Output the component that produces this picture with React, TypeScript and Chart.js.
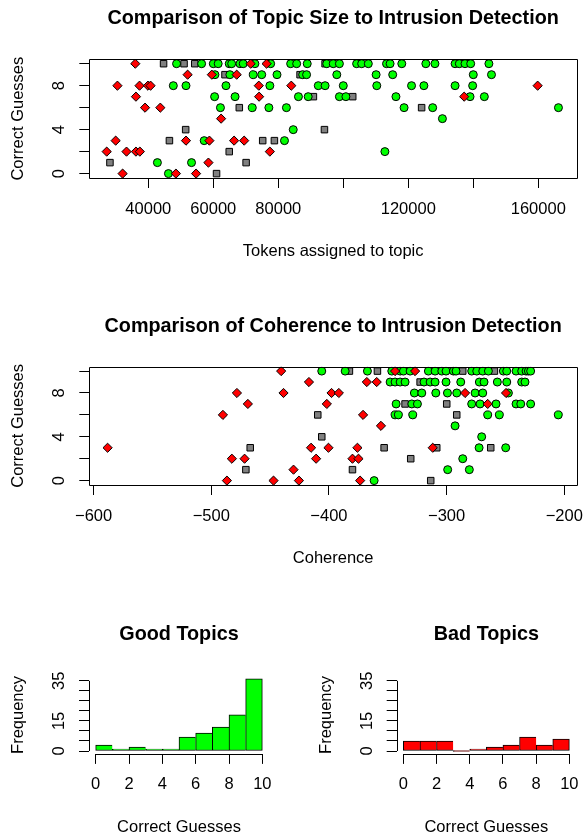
import React, { useEffect, useRef } from 'react';
import { Chart, registerables } from 'chart.js';

Chart.register(...registerables);

const FONT = '"Liberation Sans", Arial, Helvetica, sans-serif';
Chart.defaults.font.family = FONT;
Chart.defaults.color = '#000';

// ---------- Panel 1: topic size (tokens) vs correct guesses ----------
const sizeGoodX = [
  48700, 56400, 60000, 61500, 64900, 65650, 68200, 69200, 72800, 77650, 83800, 85650, 88900, 94900, 96900,
  98800, 104100, 105650, 107700, 113300, 114400, 118000, 125400, 128200, 134400, 135700, 137450, 139200, 144800,
  60500, 65100, 72300, 74900, 79600, 87500, 88700, 98000, 110100, 115200, 140000, 145600,
  47700, 51600, 63900, 77400, 92300, 94400, 100000, 110300, 121000, 124800, 134400, 139800,
  60400, 66700, 86200, 89200, 98800, 100800, 116200, 139000, 143400,
  62200, 72000, 77100, 82500, 118700, 127500, 166200,
  130500, 84600, 57200, 81900, 112800, 42800, 53300, 46200,
];
const sizeGoodY = [
  10, 10, 10, 10, 10, 10, 10, 10, 10, 10, 10, 10, 10, 10, 10,
  10, 10, 10, 10, 10, 10, 10, 10, 10, 10, 10, 10, 10, 10,
  9, 9, 9, 9, 9, 9, 9, 9, 9, 9, 9, 9,
  8, 8, 8, 8, 8, 8, 8, 8, 8, 8, 8, 8,
  7, 7, 7, 7, 7, 7, 7, 7, 7,
  6, 6, 6, 6, 6, 6, 6,
  5, 4, 3, 3, 2, 1, 1, 0,
];
const sizeBadX = [
  36000, 71500, 76400, 52100, 59550, 67200, 30500, 37300, 39900, 40700, 74000, 84000, 159800,
  36200, 74100, 137200, 39000, 43700, 62400, 29960, 51600, 58800, 66400, 69500,
  27200, 33300, 36200, 37400, 77400, 58500, 32100, 48500, 54700,
];
const sizeBadY = [
  10, 10, 10, 9, 9, 9, 8, 8, 8, 8, 8, 8, 8,
  7, 7, 7, 6, 6, 5, 3, 3, 3, 3, 3,
  2, 2, 2, 2, 2, 1, 0, 0, 0,
];
const sizeMidX = [
  44700, 51000, 54300, 94400, 63600, 86700, 90800, 102900, 68000, 124100,
  51500, 94200, 46500, 75200, 78800, 64900, 28200, 70100, 61000,
];
const sizeMidY = [10, 10, 10, 10, 9, 9, 7, 7, 6, 6, 4, 4, 3, 3, 3, 2, 1, 1, 0];

// ---------- Panel 2: coherence vs correct guesses ----------
const cohGoodX = [
  -406.1, -386.2, -367.3, -346.6, -339.5, -336.7, -331.0, -315.5, -309.8, -304.1, -300.5, -294.2,
  -292.0, -278.7, -274.4, -269.3, -264.5, -251.8, -248.9, -241.0, -236.2, -232.5, -230.5, -228.6,
  -348.0, -343.8, -339.5, -335.3, -319.2, -314.0, -309.8, -300.5, -288.0, -272.2, -268.2, -256.9,
  -248.9, -236.2, -233.4,
  -327.4, -321.1, -309.2, -299.3, -291.4, -275.8, -269.3, -247.5,
  -342.9, -329.6, -324.8, -278.7, -271.6, -258.0, -241.0, -237.0, -228.6,
  -343.8, -341.0, -328.8, -265.1, -255.2, -205.1,
  -292.8, -270.2, -272.4, -249.8, -286.3, -299.1, -280.7, -361.6,
];
const cohGoodY = [
  10, 10, 10, 10, 10, 10, 10, 10, 10, 10, 10, 10,
  10, 10, 10, 10, 10, 10, 10, 10, 10, 10, 10, 10,
  9, 9, 9, 9, 9, 9, 9, 9, 9, 9, 9, 9,
  9, 9, 9,
  8, 8, 8, 8, 8, 8, 8, 8,
  7, 7, 7, 7, 7, 7, 7, 7, 7,
  6, 6, 6, 6, 6, 6,
  5, 4, 3, 3, 2, 1, 1, 0,
];
const cohBadX = [
  -440.6, -343.8, -326.8, -417.0, -367.8, -359.4, -478.2, -438.6, -397.8, -391.6, -284.3, -249.5,
  -468.9, -401.8, -265.1, -490.1, -371.0, -355.8, -588.1, -415.2, -400.4, -375.8, -311.8,
  -482.5, -471.7, -410.9, -380.0, -374.9, -430.1, -486.7, -447.1, -425.5, -373.5,
];
const cohBadY = [
  10, 10, 10, 9, 9, 9, 8, 8, 8, 8, 8, 8,
  7, 7, 7, 6, 6, 5, 3, 3, 3, 3, 3,
  2, 2, 2, 2, 2, 1, 0, 0, 0, 0,
];
const cohMidX = [
  -382.6, -358.8, -286.3, -259.4, -322.5, -335.3, -299.9, -409.5, -291.4,
  -406.1, -466.9, -353.1, -308.4, -262.5, -330.5, -470.6, -380.0, -313.5,
];
const cohMidY = [10, 10, 10, 10, 9, 7, 7, 6, 6, 4, 3, 3, 3, 3, 2, 1, 1, 0];

// ---------- Panels 3 & 4: histograms ----------
const binEdges = [0, 1, 2, 3, 4, 5, 6, 7, 8, 9, 10];
const goodCounts = [3, 1, 2, 1, 1, 7, 9, 12, 18, 36];
const badCounts = [5, 5, 5, 0, 1, 2, 3, 7, 3, 6];

// ---------- ticks ----------
const sizeTicks = [40000, 60000, 80000, 100000, 120000, 140000, 160000];
const sizeTickLabels = ['40000', '60000', '80000', '', '120000', '', '160000'];
const cohTicks = [-600, -500, -400, -300, -200];
const cohTickLabels = ['\u2212600', '\u2212500', '\u2212400', '\u2212300', '\u2212200'];
const guessTicks = [0, 2, 4, 6, 8, 10];
const guessTickLabels = ['0', '', '4', '', '8', ''];
const histXTicks = [0, 2, 4, 6, 8, 10];
const histXTickLabels = ['0', '2', '4', '6', '8', '10'];
const freqTicks = [0, 5, 10, 15, 20, 25, 30, 35];
const freqTickLabels = ['0', '', '', '15', '', '', '', '35'];

const LABEL = 16.5;
const MAIN = 19.8;

const framePlugin = {
  id: 'rframe',
  afterDatasetsDraw(chart: any, _args: any, opts: any) {
    const { ctx, chartArea: a } = chart;
    ctx.save();
    ctx.strokeStyle = '#000';
    ctx.lineWidth = 1;
    ctx.beginPath();
    if (opts.mode === 'box') {
      ctx.rect(Math.round(a.left) + 0.5, Math.round(a.top) + 0.5, Math.round(a.right - a.left), Math.round(a.bottom - a.top));
    } else {
      const xs = chart.scales.x;
      const ys = chart.scales.y;
      const yb = Math.round(a.bottom) + 0.5;
      ctx.moveTo(xs.getPixelForValue(xs.ticks[0].value), yb);
      ctx.lineTo(xs.getPixelForValue(xs.ticks[xs.ticks.length - 1].value), yb);
      const xl = Math.round(a.left) + 0.5;
      ctx.moveTo(xl, ys.getPixelForValue(ys.ticks[0].value));
      ctx.lineTo(xl, ys.getPixelForValue(ys.ticks[ys.ticks.length - 1].value));
    }
    ctx.stroke();
    ctx.restore();
  },
};

const gridOpts = {
  drawOnChartArea: false,
  drawTicks: true,
  tickLength: 10,
  color: '#000',
  tickColor: '#000',
  lineWidth: 1,
  offset: false,
};

function xScale(min: number, max: number, ticks: number[], labels: string[], height: number, title: string, titleBottom: number) {
  return {
    type: 'linear',
    position: 'bottom',
    min,
    max,
    offset: false,
    afterBuildTicks: (s: any) => {
      s.ticks = ticks.map((v) => ({ value: v }));
    },
    afterFit: (s: any) => {
      s.height = height;
      s.paddingLeft = 0;
      s.paddingRight = 0;
    },
    grid: gridOpts,
    border: { display: false },
    ticks: {
      autoSkip: false,
      minRotation: 0,
      maxRotation: 0,
      padding: 11.1,
      color: '#000',
      font: { size: LABEL },
      callback: (_v: any, i: number) => labels[i],
    },
    title: { display: true, text: title, color: '#000', font: { size: LABEL }, padding: { top: 0, bottom: titleBottom } },
  };
}

function yScale(min: number, max: number, ticks: number[], labels: string[], width: number, title: string, titleLeft: number, pad: number) {
  return {
    type: 'linear',
    position: 'left',
    min,
    max,
    afterBuildTicks: (s: any) => {
      s.ticks = ticks.map((v) => ({ value: v }));
    },
    afterFit: (s: any) => {
      s.width = width;
      s.paddingTop = 0;
      s.paddingBottom = 0;
    },
    grid: gridOpts,
    border: { display: false },
    ticks: {
      autoSkip: false,
      minRotation: 90,
      maxRotation: 90,
      crossAlign: 'center',
      padding: pad,
      color: '#000',
      font: { size: LABEL },
      callback: (_v: any, i: number) => labels[i],
    },
    title: { display: true, text: title, color: '#000', font: { size: LABEL }, padding: { top: titleLeft, bottom: 0 } },
  };
}

function pts(xs: number[], ys: number[]) {
  return xs.map((x, i) => ({ x, y: ys[i] }));
}

function scatterSet(xs: number[], ys: number[], style: string, r: number, color: string) {
  return {
    data: pts(xs, ys),
    pointStyle: style,
    pointRadius: r,
    pointBackgroundColor: color,
    pointBorderColor: '#000',
    pointBorderWidth: 1,
    showLine: false,
  };
}

type Box = { x: number; y: number; w: number; h: number };

const box1: Box = { x: 0, y: 0, w: 585, h: 290 };
const box2: Box = { x: 0, y: 290, w: 585, h: 300 };
const box3: Box = { x: 0, y: 590, w: 292, h: 247 };
const box4: Box = { x: 292, y: 590, w: 293, h: 247 };

function config1(): any {
  return {
    type: 'scatter',
    data: {
      datasets: [
        scatterSet(sizeBadX, sizeBadY, 'rectRot', 4.6, '#FF0000'),
        scatterSet(sizeGoodX, sizeGoodY, 'circle', 4.0, '#00FF00'),
        scatterSet(sizeMidX, sizeMidY, 'rect', 4.6, '#808080'),
      ],
    },
    plugins: [framePlugin],
    options: {
      animation: false,
      responsive: false,
      events: [],
      layout: { padding: { left: 0, top: 0, right: 8, bottom: 0 } },
      plugins: {
        legend: { display: false },
        tooltip: { enabled: false },
        rframe: { mode: 'box' },
        title: {
          display: true,
          fullSize: false,
          text: 'Comparison of Topic Size to Intrusion Detection',
          color: '#000',
          font: { size: MAIN, weight: 'bold' },
          padding: { top: 7.1, bottom: 28.44 },
        },
      },
      scales: {
        x: xScale(21846, 171911, sizeTicks, sizeTickLabels, 112, 'Tokens assigned to topic', 29.1),
        y: yScale(-0.4, 10.4, guessTicks, guessTickLabels, 89.3, 'Correct Guesses', 8.4, 14.9),
      },
    },
  };
}

function config2(): any {
  return {
    type: 'scatter',
    data: {
      datasets: [
        scatterSet(cohBadX, cohBadY, 'rectRot', 4.6, '#FF0000'),
        scatterSet(cohGoodX, cohGoodY, 'circle', 4.0, '#00FF00'),
        scatterSet(cohMidX, cohMidY, 'rect', 4.6, '#808080'),
      ],
    },
    plugins: [framePlugin],
    options: {
      animation: false,
      responsive: false,
      events: [],
      layout: { padding: { left: 0, top: 0, right: 8, bottom: 0 } },
      plugins: {
        legend: { display: false },
        tooltip: { enabled: false },
        rframe: { mode: 'box' },
        title: {
          display: true,
          fullSize: false,
          text: 'Comparison of Coherence to Intrusion Detection',
          color: '#000',
          font: { size: MAIN, weight: 'bold' },
          padding: { top: 25.1, bottom: 27.84 },
        },
      },
      scales: {
        x: xScale(-603.65, -189.2, cohTicks, cohTickLabels, 105, 'Coherence', 22.1),
        y: yScale(-0.4, 10.4, guessTicks, guessTickLabels, 89.3, 'Correct Guesses', 8.4, 14.9),
      },
    },
  };
}

function histConfig(counts: number[], color: string, title: string, yWidth: number, padRight: number, yTitleLeft: number): any {
  const data = counts.map((c, i) => ({ x: (binEdges[i] + binEdges[i + 1]) / 2, y: c }));
  const last = counts.length - 1;
  return {
    type: 'bar',
    data: {
      datasets: [
        {
          data,
          backgroundColor: color,
          borderColor: '#000',
          borderWidth: (c: any) => ({ top: 1, bottom: 1, left: 1, right: c.dataIndex === last ? 1 : 0 }),
          borderSkipped: false,
          barPercentage: 1,
          categoryPercentage: 1,
          minBarLength: 1,
        },
      ],
    },
    plugins: [framePlugin],
    options: {
      animation: false,
      responsive: false,
      events: [],
      layout: { padding: { left: 0, top: 0, right: padRight, bottom: 0 } },
      plugins: {
        legend: { display: false },
        tooltip: { enabled: false },
        rframe: { mode: 'axes' },
        title: {
          display: true,
          fullSize: false,
          text: title,
          color: '#000',
          font: { size: MAIN, weight: 'bold' },
          padding: { top: 33.1, bottom: 29.1 },
        },
      },
      scales: {
        x: { ...xScale(-0.4, 10.4, histXTicks, histXTickLabels, 83.1, 'Correct Guesses', 0.1), grid: gridOpts },
        y: yScale(-1.44, 37.44, freqTicks, freqTickLabels, yWidth, 'Frequency', yTitleLeft, 10.3),
      },
    },
  };
}

function Panel({ box, make }: { box: Box; make: () => any }) {
  const ref = useRef<HTMLCanvasElement>(null);
  useEffect(() => {
    if (!ref.current) return;
    const chart = new Chart(ref.current, make());
    return () => chart.destroy();
  }, []);
  return (
    <canvas
      ref={ref}
      width={box.w}
      height={box.h}
      style={{ position: 'absolute', left: box.x, top: box.y, width: box.w, height: box.h }}
    />
  );
}

export default function App() {
  return (
    <div style={{ position: 'absolute', left: 0, top: 0, width: 585, height: 837, background: '#fff', overflow: 'hidden' }}>
      <Panel box={box1} make={config1} />
      <Panel box={box2} make={config2} />
      <Panel box={box3} make={() => histConfig(goodCounts, '#00FF00', 'Good Topics', 89, 23, 8.4)} />
      <Panel box={box4} make={() => histConfig(badCounts, '#FF0000', 'Bad Topics', 104.7, 9, 24.1)} />
    </div>
  );
}
